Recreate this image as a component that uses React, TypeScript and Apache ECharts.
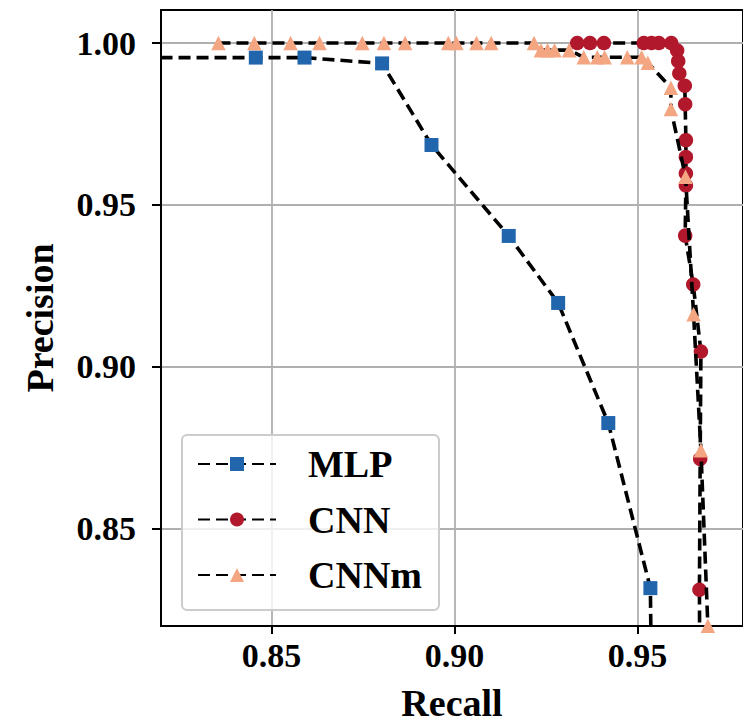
import React, { useEffect, useRef } from "react";
import * as echarts from "echarts";

const mlpData: number[][] = [
  [0.8, 0.9955], [0.8457, 0.9955], [0.859, 0.9955], [0.8802, 0.9937], [0.8937, 0.9685],
  [0.9148, 0.9404], [0.9283, 0.9197], [0.942, 0.8826], [0.9535, 0.8316], [0.9538, 0.8],
];
const cnnData: number[][] = [
  [0.9335, 1.0], [0.937, 1.0], [0.9408, 1.0], [0.9517, 1.0], [0.9538, 1.0], [0.9558, 1.0],
  [0.9592, 1.0], [0.9608, 0.9977], [0.9611, 0.9944], [0.9614, 0.9906], [0.9629, 0.9868],
  [0.963, 0.9811], [0.9632, 0.97], [0.9632, 0.9648], [0.9632, 0.9597], [0.9632, 0.956],
  [0.963, 0.9405], [0.9652, 0.9254], [0.9673, 0.9047], [0.9671, 0.8715], [0.9669, 0.8311],
  [0.967, 0.8],
];
const cnnmData: number[][] = [
  [0.8355, 1.0], [0.8453, 1.0], [0.8552, 1.0], [0.8631, 1.0], [0.8748, 1.0], [0.8807, 1.0],
  [0.8865, 1.0], [0.8983, 1.0], [0.9005, 1.0], [0.906, 1.0], [0.91, 1.0], [0.9217, 1.0],
  [0.9236, 0.9978], [0.9254, 0.9978], [0.9273, 0.9978], [0.9313, 0.9978], [0.9353, 0.9956],
  [0.939, 0.9956], [0.941, 0.9956], [0.9472, 0.9956], [0.9511, 0.9956], [0.9528, 0.9939],
  [0.9591, 0.9862], [0.9591, 0.9796], [0.9631, 0.9587], [0.9653, 0.9162], [0.9673, 0.8742],
  [0.9692, 0.82],
];
const xTicks = [0.85, 0.9, 0.95];
const yTicks = [0.85, 0.9, 0.95, 1.0];
const seriesNames = ["MLP", "CNN", "CNNm"];
const seriesColors = ["#2166ac", "#b2182b", "#f4a582"];
const seriesSymbols = ["rect", "circle", "triangle"];

const FONT = "'Liberation Serif', 'Times New Roman', serif";

export default function App() {
  const ref = useRef<HTMLDivElement>(null);
  useEffect(() => {
    if (!ref.current) return;
    const chart = echarts.init(ref.current, null, { renderer: "svg" });
    const datasets = [mlpData, cnnData, cnnmData];
    const lineDash = [12, 6];
    chart.setOption({
      animation: false,
      backgroundColor: "#ffffff",
      grid: {
        left: 161,
        top: 10,
        right: 17,
        bottom: 95.5,
        show: true,
        borderColor: "#000",
        borderWidth: 2,
        backgroundColor: "transparent",
      },
      legend: {
        orient: "vertical",
        left: 182,
        top: 435,
        padding: [10, 17, 16, 15],
        itemGap: 17.5,
        itemWidth: 78,
        itemHeight: 17.5,
        backgroundColor: "rgba(255,255,255,0.8)",
        borderColor: "#cccccc",
        borderWidth: 2,
        borderRadius: 5,
        data: seriesNames,
        textStyle: {
          fontFamily: FONT,
          fontWeight: "bold",
          fontSize: 38,
          color: "#000",
          padding: [0, 0, 0, 27],
        },
      },
      xAxis: {
        type: "value",
        min: 0.8198,
        max: 0.9788,
        name: "Recall",
        nameLocation: "middle",
        nameGap: 58,
        nameTextStyle: { fontFamily: FONT, fontWeight: "bold", fontSize: 38, color: "#000" },
        axisLine: { show: true, onZero: false, lineStyle: { color: "#000", width: 2 } },
        axisTick: { show: true, inside: false, length: 8, lineStyle: { color: "#000", width: 2 }, customValues: xTicks },
        axisLabel: {
          customValues: xTicks,
          margin: 12,
          fontFamily: FONT,
          fontWeight: "bold",
          fontSize: 34,
          color: "#000",
          formatter: (v: number) => v.toFixed(2),
        },
        splitLine: { show: true, lineStyle: { color: "#b0b0b0", width: 1.8 } },
      },
      yAxis: {
        type: "value",
        min: 0.8199,
        max: 1.0102,
        name: "Precision",
        nameLocation: "middle",
        nameGap: 102,
        nameTextStyle: { fontFamily: FONT, fontWeight: "bold", fontSize: 38, color: "#000" },
        axisLine: { show: true, onZero: false, lineStyle: { color: "#000", width: 2 } },
        axisTick: { show: true, inside: false, length: 9, lineStyle: { color: "#000", width: 2 }, customValues: yTicks },
        axisLabel: {
          customValues: yTicks,
          margin: 25,
          fontFamily: FONT,
          fontWeight: "bold",
          fontSize: 34,
          color: "#000",
          formatter: (v: number) => v.toFixed(2),
        },
        splitLine: { show: true, lineStyle: { color: "#b0b0b0", width: 1.8 } },
      },
      series: datasets.map((d, i) => ({
        name: seriesNames[i],
        type: "line",
        data: d,
        clip: true,
        symbol: seriesSymbols[i],
        symbolSize: i === 0 ? 14 : 14.5,
        showAllSymbol: true,
        itemStyle: { color: seriesColors[i] },
        lineStyle: { color: "#000", width: 3.6, type: lineDash },
        z: 2 + i,
      })),
    });
    return () => chart.dispose();
  }, []);
  return (
    <div style={{ position: "fixed", left: 0, top: 0, width: 743, height: 727, overflow: "hidden", background: "#fff" }}>
      <div ref={ref} style={{ width: 760, height: 727 }} />
    </div>
  );
}
